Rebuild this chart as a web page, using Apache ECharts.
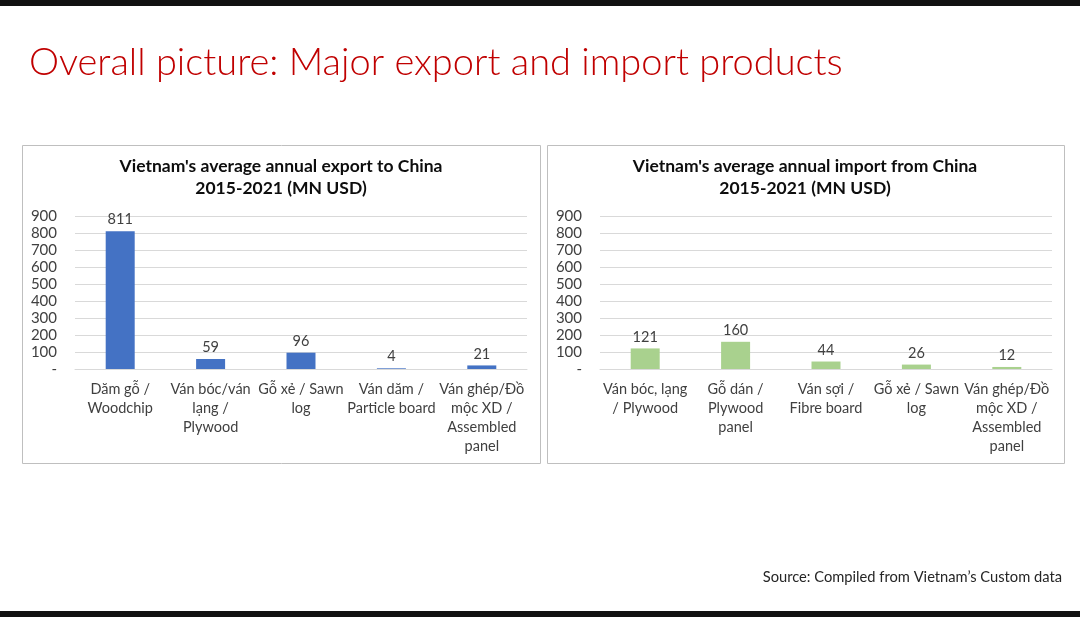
<!DOCTYPE html>
<html><head><meta charset="utf-8">
<script src="https://cdn.jsdelivr.net/npm/echarts@6/dist/echarts.min.js"></script>
<style>html,body{margin:0;padding:0;background:#fff}#c{width:1080px;height:617px}</style>
</head><body><div id="c"></div>
<script>
const pageTitle = 'Overall picture: Major export and import products';
const exportTitle = "Vietnam's average annual export to China\n2015-2021 (MN USD)";
const importTitle = "Vietnam's average annual import from China\n2015-2021 (MN USD)";
const exportCategories = ['Dăm gỗ /\nWoodchip', 'Ván bóc/ván\nlạng /\nPlywood', 'Gỗ xẻ / Sawn\nlog', 'Ván dăm /\nParticle board', 'Ván ghép/Đồ\nmộc XD /\nAssembled\npanel'];
const exportValues = [811, 59, 96, 4, 21];
const importCategories = ['Ván bóc, lạng\n/ Plywood', 'Gỗ dán /\nPlywood\npanel', 'Ván sợi /\nFibre board', 'Gỗ xẻ / Sawn\nlog', 'Ván ghép/Đồ\nmộc XD /\nAssembled\npanel'];
const importValues = [121, 160, 44, 26, 12];
const sourceText = 'Source: Compiled from Vietnam’s Custom data';

const FONT = 'Lato, "Open Sans", sans-serif';
const chart = echarts.init(document.getElementById('c'), null, {renderer: 'canvas'});

function yAxis(gi) {
  return {
    type: 'value', gridIndex: gi, min: 0, max: 900, interval: 100,
    axisLine: {show: false}, axisTick: {show: false},
    splitLine: {lineStyle: {color: '#d9d9d9', width: 1}},
    axisLabel: {color: '#404040', fontSize: 15, fontFamily: FONT, margin: 18,
      formatter: v => v === 0 ? '-' : String(v)}
  };
}
function xAxis(gi, cats) {
  return {
    type: 'category', gridIndex: gi, data: cats,
    axisLine: {lineStyle: {color: '#d9d9d9'}}, axisTick: {show: false},
    axisLabel: {color: '#404040', fontSize: 14.5, fontFamily: FONT, lineHeight: 19, margin: 11, interval: 0}
  };
}
function bar(gi, vals, color) {
  return {
    type: 'bar', xAxisIndex: gi, yAxisIndex: gi, data: vals, barWidth: 29,
    itemStyle: {color: color},
    label: {show: true, position: 'top', distance: 4, color: '#404040', fontSize: 14.5, fontFamily: FONT}
  };
}

chart.setOption({
  animation: false,
  title: [
    {text: pageTitle, left: 29, top: 44, padding: 0, textStyle: {color: '#C00000', fontSize: 38, fontWeight: 300, fontFamily: FONT}},
    {text: exportTitle, left: 281, textAlign: 'center', top: 155, padding: 0, textStyle: {color: '#0d0d0d', fontSize: 17.5, fontWeight: 'bold', fontFamily: FONT, lineHeight: 22}},
    {text: importTitle, left: 805, textAlign: 'center', top: 155, padding: 0, textStyle: {color: '#0d0d0d', fontSize: 17.5, fontWeight: 'bold', fontFamily: FONT, lineHeight: 22}},
    {text: sourceText, right: 18, top: 570, padding: 0, textStyle: {color: '#262626', fontSize: 14.7, fontWeight: 'normal', fontFamily: FONT}}
  ],
  graphic: [
    {type: 'rect', shape: {x: 0, y: 0, width: 1080, height: 6}, style: {fill: '#111'}},
    {type: 'rect', shape: {x: 0, y: 611, width: 1080, height: 6}, style: {fill: '#111'}},
    {type: 'rect', shape: {x: 22.5, y: 145.5, width: 518, height: 318}, style: {fill: 'none', stroke: '#bfbfbf', lineWidth: 1}},
    {type: 'rect', shape: {x: 547.5, y: 145.5, width: 517, height: 318}, style: {fill: 'none', stroke: '#bfbfbf', lineWidth: 1}}
  ],
  grid: [
    {left: 75, top: 216, width: 452, height: 153},
    {left: 600, top: 216, width: 452, height: 153}
  ],
  xAxis: [xAxis(0, exportCategories), xAxis(1, importCategories)],
  yAxis: [yAxis(0), yAxis(1)],
  series: [bar(0, exportValues, '#4472C4'), bar(1, importValues, '#A9D18E')]
});
</script></body></html>
